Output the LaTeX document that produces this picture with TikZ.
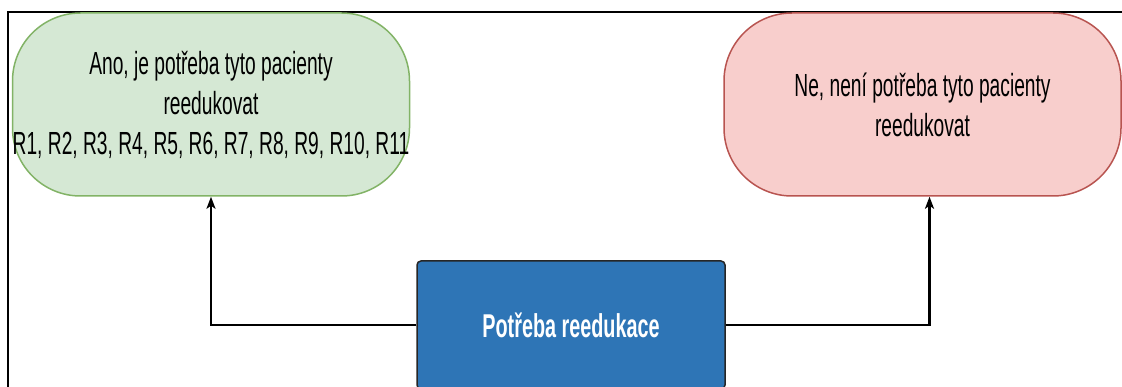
\documentclass[tikz,border=0pt]{standalone}
\usepackage{fontspec}
\setmainfont{Liberation Sans}[FakeStretch=0.6]
\usetikzlibrary{arrows.meta}
\definecolor{anofill}{HTML}{D5E8D4}
\definecolor{anoline}{HTML}{82B366}
\definecolor{nefill}{HTML}{F8CECC}
\definecolor{neline}{HTML}{B85450}
\definecolor{potrebafill}{HTML}{2E75B6}
\begin{document}
\begin{tikzpicture}[x=1pt,y=-1pt,
  answer/.style={draw, line width=1.5pt, rounded corners=68pt, inner sep=0pt,
    minimum width=397pt, minimum height=183pt, align=center,
    font=\fontsize{32}{40}\selectfont},
  decision/.style={draw=black!85, line width=1.5pt, rounded corners=4pt,
    fill=potrebafill, text=white, minimum width=308pt, minimum height=128pt,
    font=\fontsize{33}{36}\selectfont\bfseries},
  link/.style={line width=2.5pt, -{Stealth[length=12pt,width=9pt,inset=3pt]}}]
\useasboundingbox (0,0) rectangle (1122,387);
% frame
\draw[line width=2pt] (1122,12)--(8,12)--(8,387);
% nodes
\node[answer, fill=anofill, draw=anoline] (ano) at (211,104.5)
  {Ano, je potřeba tyto pacienty\\reedukovat\\R1, R2, R3, R4, R5, R6, R7, R8, R9, R10, R11};
\node[answer, fill=nefill, draw=neline] (ne) at (922.5,104.5)
  {Ne, není potřeba tyto pacienty\\reedukovat};
\node[decision] (potreba) at (571,325) {Potřeba reedukace};
% connectors
\draw[link] (potreba.west) -| (ano.south);
\draw[link] (potreba.east) -| ([xshift=7pt]ne.south);
\end{tikzpicture}
\end{document}
